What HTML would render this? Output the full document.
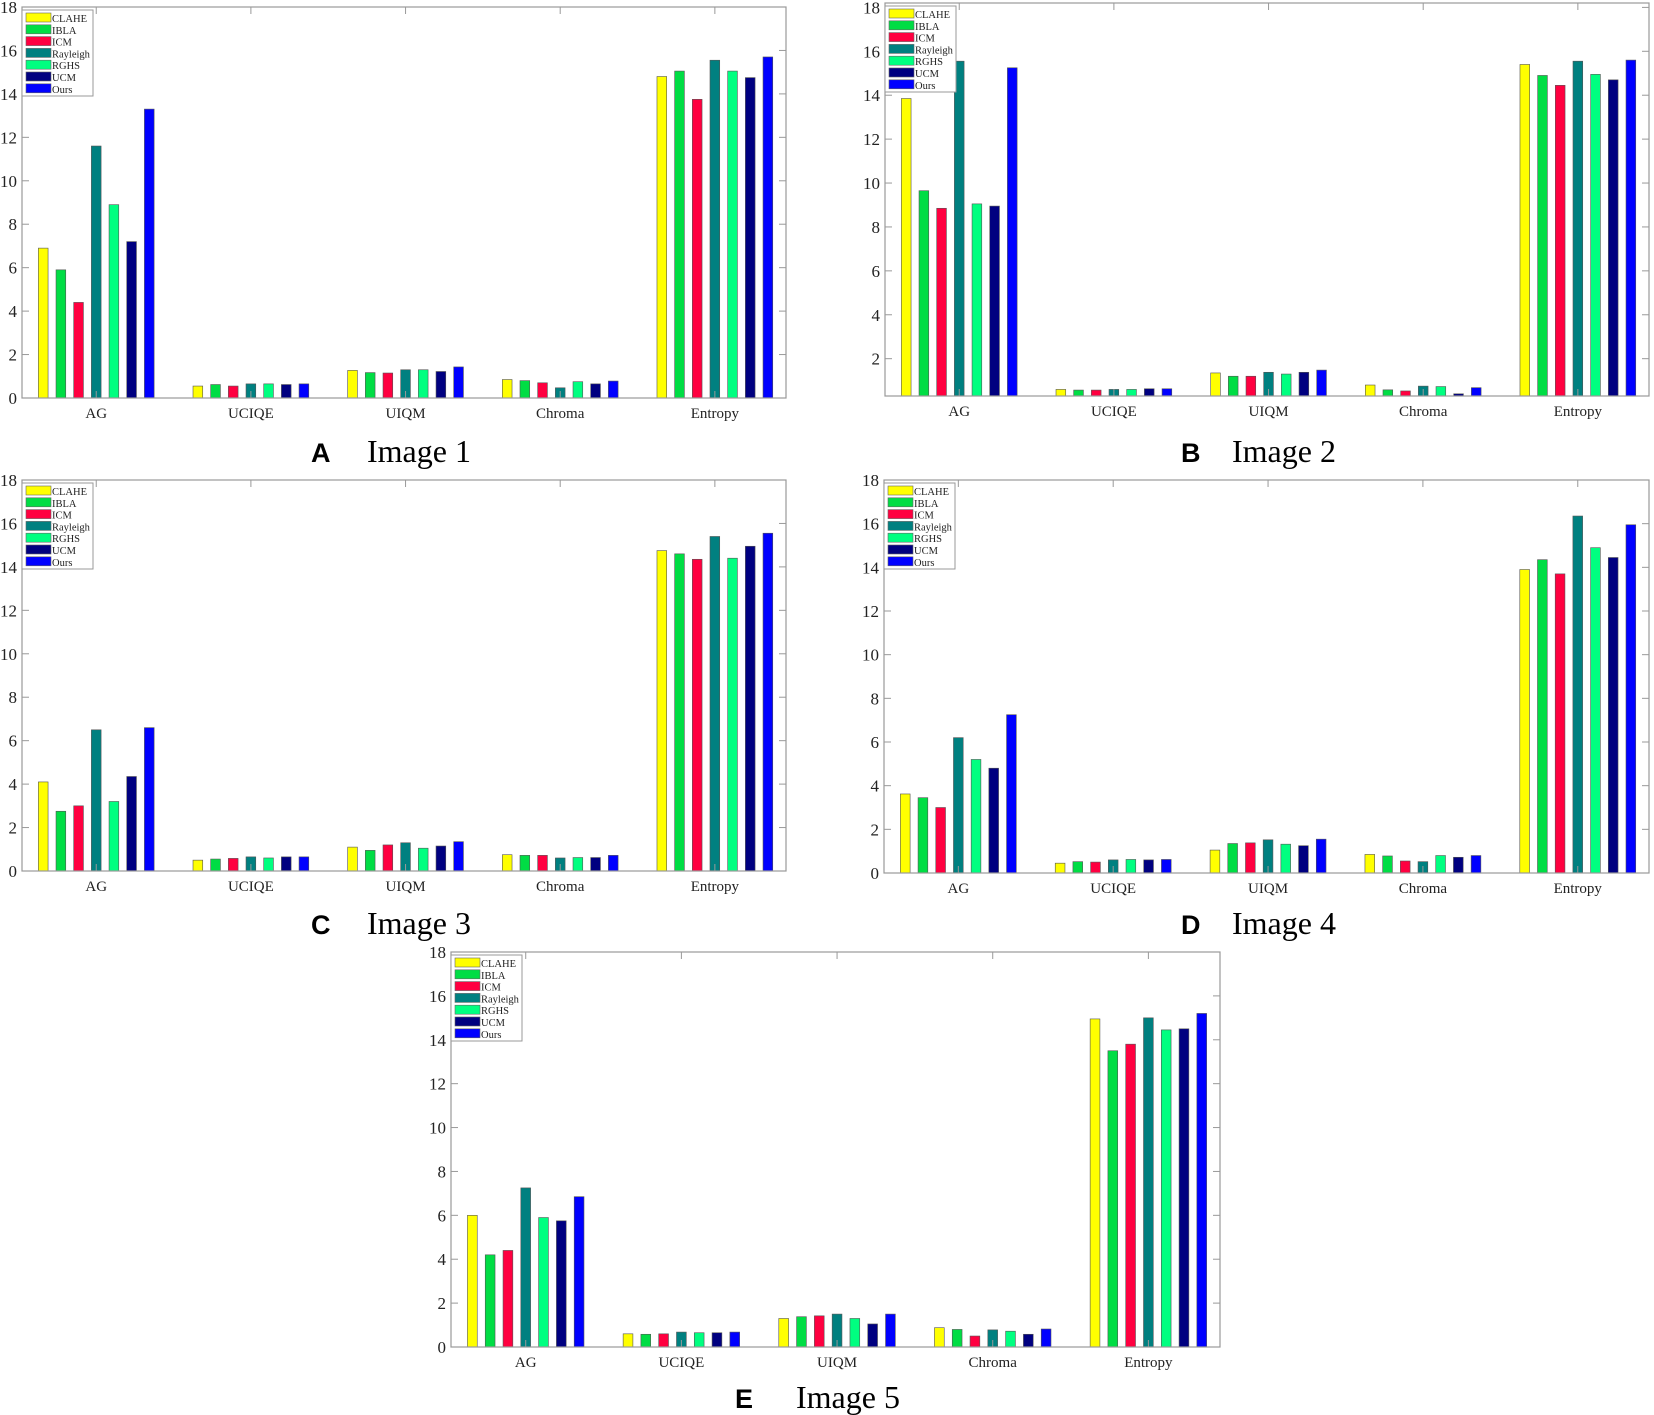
<!DOCTYPE html>
<html><head><meta charset="utf-8">
<style>
html,body{margin:0;padding:0;background:#fff;}
svg{display:block;font-family:"Liberation Serif",serif;}
</style></head>
<body>
<svg id="fig" width="1654" height="1415" viewBox="0 0 1654 1415" xmlns="http://www.w3.org/2000/svg"></svg>
<script>
const categories = ["AG","UCIQE","UIQM","Chroma","Entropy"];
const methods = ["CLAHE","IBLA","ICM","Rayleigh","RGHS","UCM","Ours"];
const colors = ["#ffff00","#00dd44","#ff0040","#008080","#00ff80","#000080","#0000ff"];
const yTicks = [0,2,4,6,8,10,12,14,16,18];
const yTicksB = [2,4,6,8,10,12,14,16,18];

// values[category][method]
const valuesA = [[6.9,5.9,4.4,11.6,8.9,7.2,13.3],[0.55,0.62,0.55,0.65,0.65,0.62,0.65],[1.27,1.17,1.15,1.3,1.3,1.22,1.43],[0.85,0.8,0.7,0.47,0.75,0.65,0.78],[14.8,15.05,13.75,15.55,15.05,14.75,15.7]];
const valuesB = [[13.85,9.65,8.85,15.55,9.05,8.95,15.25],[0.6,0.57,0.57,0.6,0.6,0.63,0.63],[1.35,1.2,1.2,1.38,1.3,1.38,1.48],[0.8,0.58,0.53,0.75,0.73,0.4,0.68],[15.4,14.9,14.45,15.55,14.95,14.7,15.6]];
const valuesC = [[4.1,2.75,3.0,6.5,3.2,4.35,6.6],[0.5,0.55,0.58,0.65,0.6,0.65,0.65],[1.1,0.95,1.2,1.3,1.05,1.15,1.35],[0.75,0.72,0.72,0.6,0.62,0.62,0.72],[14.75,14.6,14.35,15.4,14.4,14.95,15.55]];
const valuesD = [[3.62,3.45,3.0,6.2,5.2,4.8,7.25],[0.45,0.52,0.5,0.6,0.62,0.6,0.62],[1.05,1.35,1.38,1.52,1.32,1.25,1.55],[0.85,0.78,0.55,0.52,0.8,0.72,0.8],[13.9,14.35,13.7,16.35,14.9,14.45,15.95]];
const valuesE = [[6.0,4.2,4.4,7.25,5.9,5.75,6.85],[0.6,0.58,0.6,0.68,0.65,0.65,0.68],[1.3,1.38,1.42,1.5,1.3,1.05,1.5],[0.88,0.8,0.5,0.78,0.72,0.58,0.82],[14.95,13.5,13.8,15.0,14.45,14.5,15.2]];

const panels = [
 {id:"a",letter:"A",title:"Image 1",L:22,R:786,T:7,B:398,ymin:0,ymax:18,ticks:yTicks,vals:valuesA,lx:311,tx:367,ty:462},
 {id:"b",letter:"B",title:"Image 2",L:885,R:1649,T:3,B:396,ymin:0.3,ymax:18.2,ticks:yTicksB,vals:valuesB,lx:1181,tx:1232,ty:462},
 {id:"c",letter:"C",title:"Image 3",L:22,R:786,T:480,B:871,ymin:0,ymax:18,ticks:yTicks,vals:valuesC,lx:311,tx:367,ty:934},
 {id:"d",letter:"D",title:"Image 4",L:884,R:1649,T:480,B:873,ymin:0,ymax:18,ticks:yTicks,vals:valuesD,lx:1181,tx:1232,ty:934},
 {id:"e",letter:"E",title:"Image 5",L:451,R:1220,T:952,B:1347,ymin:0,ymax:18,ticks:yTicks,vals:valuesE,lx:735,tx:796,ty:1408}
];
const NS="http://www.w3.org/2000/svg";
const svg=document.getElementById("fig");
function mk(tag,attrs,parent){const e=document.createElementNS(NS,tag);for(const k in attrs)e.setAttribute(k,attrs[k]);(parent||svg).appendChild(e);return e;}

panels.forEach(p=>{
  const g=mk("g",{});
  
  
  const xmin=0.52,xmax=5.46,ymax=p.ymax;
  const ys=v=>p.B-(v-p.ymin)/(ymax-p.ymin)*(p.B-p.T);
  const xs=v=>p.L+(v-xmin)/(xmax-xmin)*(p.R-p.L);
  const slot=0.8/7, bw=slot*0.55;
  p.vals.forEach((grp,ci)=>{
    grp.forEach((v,mi)=>{
      const cx=(ci+1)-0.4+slot*(mi+0.5);
      const x0=xs(cx-bw/2),x1=xs(cx+bw/2);
      const r=mk("rect",{x:x0,y:ys(v),width:x1-x0,height:Math.max(0,p.B-ys(v)),fill:colors[mi],stroke:"#555","stroke-width":0.6},g);
      
      
    });
  });
  const box=mk("rect",{x:p.L,y:p.T,width:p.R-p.L,height:p.B-p.T,fill:"none",stroke:"#999","stroke-width":1.2},g);
  
  
  p.ticks.forEach(t=>{
    const y=ys(t);
    mk("line",{x1:p.L,x2:p.L+7,y1:y,y2:y,stroke:"#999"},g);
    mk("line",{x1:p.R-7,x2:p.R,y1:y,y2:y,stroke:"#999"},g);
    const tx=mk("text",{x:p.L-5,y:y+6,"text-anchor":"end","font-size":17,fill:"#222"},g);
    tx.textContent=t;
    
    
  });
  categories.forEach((c,ci)=>{
    const x=xs(ci+1);
    mk("line",{x1:x,x2:x,y1:p.T,y2:p.T+7,stroke:"#999"},g);
    mk("line",{x1:x,x2:x,y1:p.B,y2:p.B-7,stroke:"#999"},g);
    const tx=mk("text",{x:x,y:p.B+20,"text-anchor":"middle","font-size":15,fill:"#222"},g);
    tx.textContent=c;
    
    
  });
  const lg=mk("g",{},g);
  
  
  mk("rect",{x:p.L,y:p.T+3,width:71,height:86,fill:"#fff",stroke:"#999","stroke-width":1},lg);
  methods.forEach((m,mi)=>{
    const yy=p.T+6+mi*11.8;
    const sw=mk("rect",{x:p.L+4,y:yy,width:25,height:9,fill:colors[mi],stroke:"#666","stroke-width":0.6},lg);
    
    
    const tx=mk("text",{x:p.L+30,y:yy+9,"font-size":10.5,fill:"#222"},lg);
    tx.textContent=m;
    
    
  });
  const L=mk("text",{x:p.lx,y:p.ty,"font-size":27,"font-weight":"bold","font-family":"Liberation Sans, sans-serif",fill:"#000"},g);
  L.textContent=p.letter;
  
  
  const T=mk("text",{x:p.tx,y:p.ty,"font-size":32,fill:"#000"},g);
  T.textContent=p.title;
  
  
});
</script>
</body></html>
